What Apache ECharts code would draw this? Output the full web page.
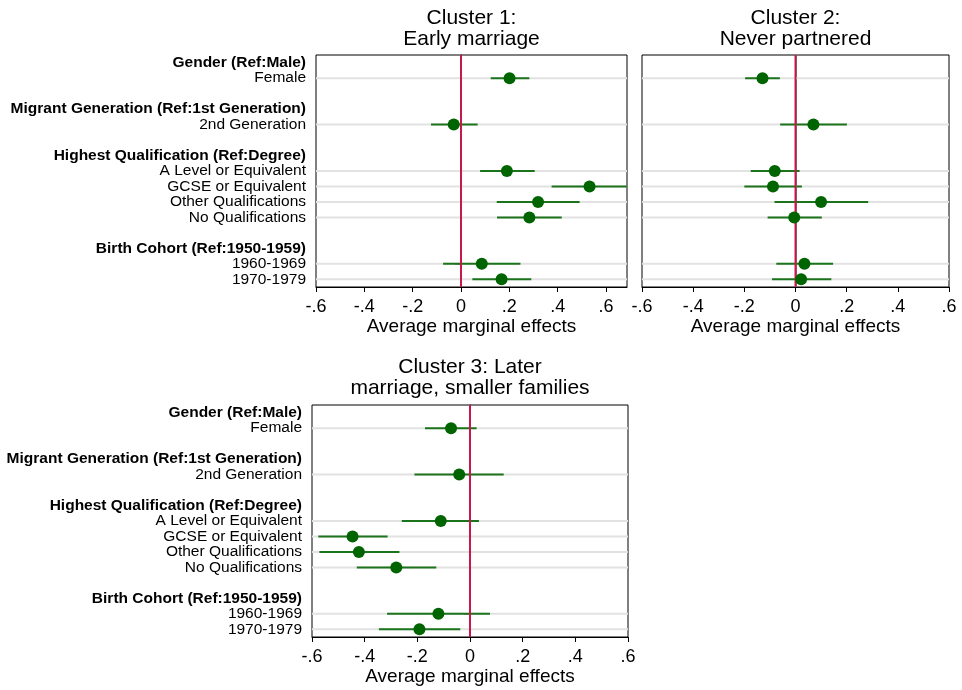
<!DOCTYPE html>
<html>
<head>
<meta charset="utf-8">
<script src="https://cdn.jsdelivr.net/npm/echarts@6/dist/echarts.min.js"></script>
<style>
html,body{margin:0;padding:0;background:#fff;}
#chart{width:962px;height:690px;}
</style>
</head>
<body>
<div id="chart"></div>
<script>
// ---- data ----
const categories = [
  'Gender (Ref:Male)', 'Female', ' ',
  'Migrant Generation (Ref:1st Generation)', '2nd Generation', '  ',
  'Highest Qualification (Ref:Degree)', 'A Level or Equivalent', 'GCSE or Equivalent',
  'Other Qualifications', 'No Qualifications', '   ',
  'Birth Cohort (Ref:1950-1959)', '1960-1969', '1970-1979'
];
const headers = ['Gender (Ref:Male)', 'Migrant Generation (Ref:1st Generation)',
  'Highest Qualification (Ref:Degree)', 'Birth Cohort (Ref:1950-1959)'];
const items = ['Female', '2nd Generation', 'A Level or Equivalent', 'GCSE or Equivalent',
  'Other Qualifications', 'No Qualifications', '1960-1969', '1970-1979'];

const titles = ['Cluster 1:\nEarly marriage', 'Cluster 2:\nNever partnered', 'Cluster 3: Later\nmarriage, smaller families'];
const xTicks = [-0.6, -0.4, -0.2, 0, 0.2, 0.4, 0.6];
const xAxisTitle = 'Average marginal effects';

const c1Est = [0.201, -0.030, 0.190, 0.532, 0.319, 0.283, 0.086, 0.168];
const c1Lo  = [0.123, -0.124, 0.079, 0.375, 0.148, 0.149, -0.074, 0.047];
const c1Hi  = [0.283, 0.069, 0.305, 0.700, 0.491, 0.417, 0.246, 0.291];

const c2Est = [-0.129, 0.070, -0.081, -0.088, 0.100, -0.005, 0.035, 0.022];
const c2Lo  = [-0.197, -0.060, -0.175, -0.200, -0.082, -0.109, -0.075, -0.092];
const c2Hi  = [-0.061, 0.201, 0.016, 0.025, 0.284, 0.103, 0.147, 0.140];

const c3Est = [-0.072, -0.041, -0.111, -0.446, -0.422, -0.280, -0.120, -0.192];
const c3Lo  = [-0.171, -0.211, -0.259, -0.576, -0.572, -0.430, -0.315, -0.346];
const c3Hi  = [0.025, 0.128, 0.034, -0.313, -0.268, -0.128, 0.076, -0.037];

// ---- chart ----
const FONT = 'Liberation Sans, Arial, Helvetica, sans-serif';
const chart = echarts.init(document.getElementById('chart'), null, {renderer: 'canvas'});

const panels = [
  {est: c1Est, lo: c1Lo, hi: c1Hi, xmax: 0.687, labels: true,
   grid: {left: 316, top: 55, width: 311, height: 232}, title: {left: 471.5, top: 7.5}},
  {est: c2Est, lo: c2Lo, hi: c2Hi, xmax: 0.6, labels: false,
   grid: {left: 642, top: 55, width: 307, height: 232}, title: {left: 795.5, top: 7.5}},
  {est: c3Est, lo: c3Lo, hi: c3Hi, xmax: 0.6, labels: true,
   grid: {left: 312, top: 405, width: 316, height: 232}, title: {left: 470, top: 357}}
];

function fmtX(v) {
  const r = Math.round(v * 10) / 10;
  if (r === 0) return '0';
  return (r < 0 ? '-' : '') + Math.abs(r).toFixed(1).replace(/^0/, '');
}

function rowsRender(params, api) {
  const cs = params.coordSys;
  const cat = api.value(1);
  const y = api.coord([0, cat])[1];
  const p1 = api.coord([api.value(2), cat]);
  const p2 = api.coord([api.value(3), cat]);
  return {
    type: 'group',
    children: [
      {type: 'line', shape: {x1: cs.x, y1: y, x2: cs.x + cs.width, y2: y},
       style: {stroke: '#e2e2e2', lineWidth: 2}},
      {type: 'line', shape: {x1: p1[0], y1: y, x2: p2[0], y2: y},
       style: {stroke: '#1b731b', lineWidth: 2}}
    ]
  };
}

function zeroRender(params, api) {
  const cs = params.coordSys;
  const x = api.coord([api.value(0), api.value(1)])[0];
  return {type: 'line', shape: {x1: x, y1: cs.y, x2: x, y2: cs.y + cs.height},
          style: {stroke: '#c8174a', lineWidth: 2}};
}

const option = {
  animation: false,
  backgroundColor: '#fff',
  title: [], grid: [], xAxis: [], yAxis: [], series: []
};

panels.forEach((p, k) => {
  option.title.push({
    text: titles[k], left: p.title.left, top: p.title.top, padding: 0,
    textAlign: 'center',
    textStyle: {fontFamily: FONT, fontSize: 21, fontWeight: 'normal', color: '#000', lineHeight: 21}
  });
  option.grid.push(Object.assign({
    show: true, borderColor: '#000', borderWidth: 1, backgroundColor: 'transparent',
    containLabel: false, outerBoundsMode: 'none'
  }, p.grid));
  option.xAxis.push({
    type: 'value', gridIndex: k, min: -0.6, max: p.xmax,
    splitLine: {show: false},
    axisLine: {show: true, onZero: false, lineStyle: {color: '#000', width: 1}},
    axisTick: {show: true, length: 5, customValues: xTicks, lineStyle: {color: '#000', width: 1}},
    axisLabel: {customValues: xTicks, formatter: fmtX, fontFamily: FONT, fontSize: 18, color: '#000', margin: 11},
    name: xAxisTitle, nameLocation: 'middle', nameGap: 30,
    nameTextStyle: {fontFamily: FONT, fontSize: 19, color: '#000'}
  });
  option.yAxis.push({
    type: 'category', gridIndex: k, data: categories, inverse: true, boundaryGap: true,
    splitLine: {show: false},
    axisLine: {show: true, lineStyle: p.labels ? {color: '#000', width: 1} : {color: '#808080', width: 2}},
    axisTick: {show: p.labels, alignWithLabel: true, length: 6,
               interval: (idx, val) => items.indexOf(val) >= 0,
               lineStyle: {color: '#000', width: 1}},
    axisLabel: {
      show: p.labels, interval: 0, margin: 10, fontFamily: FONT, fontSize: 15.5, color: '#000',
      formatter: (v) => headers.indexOf(v) >= 0 ? '{h|' + v + '}' : (v.trim() === '' ? '' : v),
      rich: {h: {fontFamily: FONT, fontSize: 15.5, fontWeight: 'bold', color: '#000'}}
    }
  });
  option.series.push({
    type: 'custom', xAxisIndex: k, yAxisIndex: k, clip: true, z: 2,
    renderItem: rowsRender,
    dimensions: ['est', 'cat', 'lo', 'hi'],
    encode: {x: 0, y: 1},
    data: items.map((n, i) => [p.est[i], n, p.lo[i], p.hi[i]])
  });
  option.series.push({
    type: 'custom', xAxisIndex: k, yAxisIndex: k, clip: true, z: 3,
    renderItem: zeroRender,
    encode: {x: 0, y: 1},
    data: [[0, items[0]]]
  });
  option.series.push({
    type: 'scatter', xAxisIndex: k, yAxisIndex: k, z: 4,
    symbol: 'circle', symbolSize: 12,
    itemStyle: {color: '#006400', opacity: 1},
    data: items.map((n, i) => [p.est[i], n])
  });
});

chart.setOption(option);
</script>
</body>
</html>
